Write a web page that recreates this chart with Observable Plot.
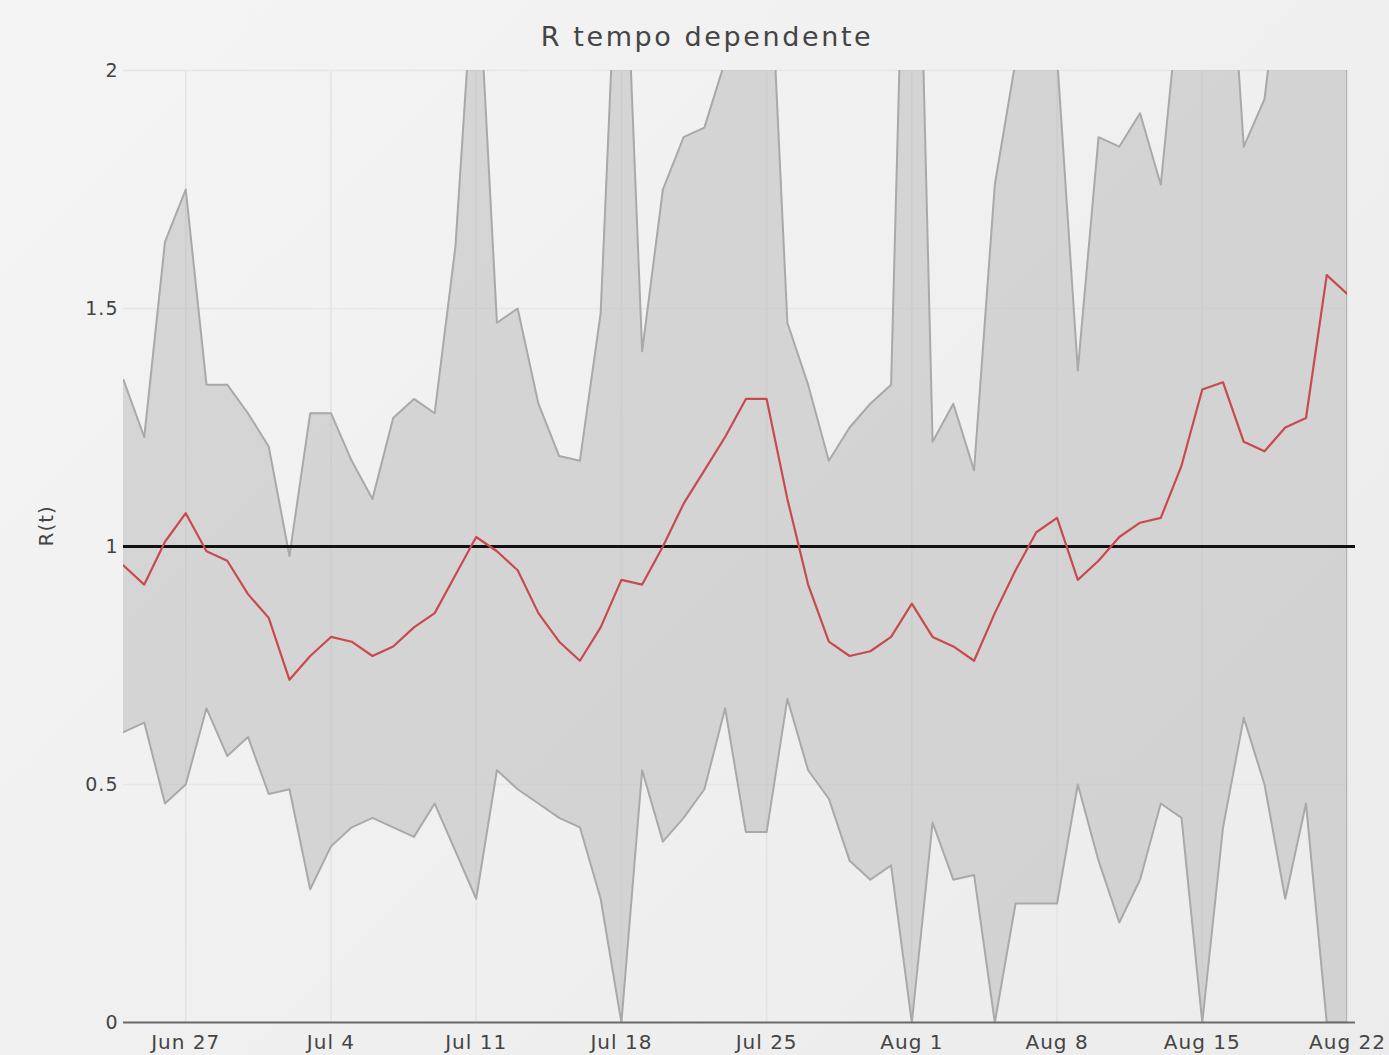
<!DOCTYPE html>
<html>
<head>
<meta charset="utf-8">
<script src="https://cdn.jsdelivr.net/npm/d3@7"></script>
<script src="https://cdn.jsdelivr.net/npm/@observablehq/plot@0.6"></script>
<style>
  html, body { margin: 0; padding: 0; background: #f0f0f0; }
  #wrap { position: relative; width: 1389px; height: 1055px; overflow: hidden; background: linear-gradient(135deg, #f4f4f4 0%, #efefef 60%, #ececec 100%); }
  #title { position: absolute; left: 707px; top: 23px; transform: translateX(-50%); font-family: "DejaVu Sans", sans-serif; font-size: 27px; letter-spacing: 2.6px; color: #444; white-space: nowrap; line-height: 1; }
  #chart { position: absolute; left: 0; top: 40px; }
</style>
</head>
<body>
<div id="wrap">
  <div id="title">R tempo dependente</div>
  <div id="chart"></div>
</div>
<script>
const dates = [
  "2020-06-24","2020-06-25","2020-06-26","2020-06-27","2020-06-28","2020-06-29","2020-06-30",
  "2020-07-01","2020-07-02","2020-07-03","2020-07-04","2020-07-05","2020-07-06","2020-07-07",
  "2020-07-08","2020-07-09","2020-07-10","2020-07-11","2020-07-12","2020-07-13","2020-07-14",
  "2020-07-15","2020-07-16","2020-07-17","2020-07-18","2020-07-19","2020-07-20","2020-07-21",
  "2020-07-22","2020-07-23","2020-07-24","2020-07-25","2020-07-26","2020-07-27","2020-07-28",
  "2020-07-29","2020-07-30","2020-07-31","2020-08-01","2020-08-02","2020-08-03","2020-08-04",
  "2020-08-05","2020-08-06","2020-08-07","2020-08-08","2020-08-09","2020-08-10","2020-08-11",
  "2020-08-12","2020-08-13","2020-08-14","2020-08-15","2020-08-16","2020-08-17","2020-08-18",
  "2020-08-19","2020-08-20","2020-08-21","2020-08-22"
];
const rt = [
  0.96,0.92,1.01,1.07,0.99,0.97,0.90,0.85,0.72,0.77,
  0.81,0.80,0.77,0.79,0.83,0.86,0.94,1.02,0.99,0.95,
  0.86,0.80,0.76,0.83,0.93,0.92,1.00,1.09,1.16,1.23,
  1.31,1.31,1.10,0.92,0.80,0.77,0.78,0.81,0.88,0.81,
  0.79,0.76,0.86,0.95,1.03,1.06,0.93,0.97,1.02,1.05,
  1.06,1.17,1.33,1.345,1.22,1.20,1.25,1.27,1.57,1.53
];
const upper = [
  1.35,1.23,1.64,1.75,1.34,1.34,1.28,1.21,0.98,1.28,
  1.28,1.18,1.10,1.27,1.31,1.28,1.63,2.3,1.47,1.50,
  1.30,1.19,1.18,1.49,2.5,1.41,1.75,1.86,1.88,2.02,
  2.3,2.4,1.47,1.34,1.18,1.25,1.30,1.34,3.0,1.22,
  1.30,1.16,1.76,2.02,2.2,2.03,1.37,1.86,1.84,1.91,
  1.76,2.2,2.5,2.5,1.84,1.94,2.3,2.5,2.6,2.7
];
const lower = [
  0.61,0.63,0.46,0.50,0.66,0.56,0.60,0.48,0.49,0.28,
  0.37,0.41,0.43,0.41,0.39,0.46,0.36,0.26,0.53,0.49,
  0.46,0.43,0.41,0.26,0.0,0.53,0.38,0.43,0.49,0.66,
  0.40,0.40,0.68,0.53,0.47,0.34,0.30,0.33,0.0,0.42,
  0.30,0.31,0.0,0.25,0.25,0.25,0.50,0.34,0.21,0.30,
  0.46,0.43,0.0,0.41,0.64,0.50,0.26,0.46,0.0,0.0
];
const xTicks = ["2020-06-27","2020-07-04","2020-07-11","2020-07-18","2020-07-25","2020-08-01","2020-08-08","2020-08-15","2020-08-22"];
const yTicks = [0, 0.5, 1, 1.5, 2];
const threshold = 1;

const data = dates.map((d, i) => ({date: new Date(d), r: rt[i], up: upper[i], lo: lower[i]}));
const last = data[data.length - 1];
const xt = xTicks.map(d => new Date(d));
const fmt = d3.utcFormat("%b %-d");

const chart = Plot.plot({
  width: 1389,
  height: 1015,
  marginLeft: 123,
  marginRight: 42,
  marginTop: 30,
  marginBottom: 33,
  style: {background: "transparent", fontFamily: "'DejaVu Sans', sans-serif", fontSize: "19px", color: "#444", letterSpacing: "1px", overflow: "visible"},
  x: {type: "utc", domain: [data[0].date, last.date]},
  y: {domain: [0, 2]},
  marks: [
    Plot.gridX(xt, {stroke: "#e2e2e2", strokeOpacity: 1, strokeWidth: 1.5}),
    Plot.gridY(yTicks, {stroke: "#e6e6e6", strokeOpacity: 1, strokeWidth: 1.5}),
    Plot.areaY(data, {x: "date", y1: "lo", y2: "up", fill: "#b8b8b8", fillOpacity: 0.5, clip: true}),
    Plot.lineY(data, {x: "date", y: "up", stroke: "#a9a9a9", strokeWidth: 2, clip: true}),
    Plot.lineY(data, {x: "date", y: "lo", stroke: "#a9a9a9", strokeWidth: 2, clip: true}),
    Plot.ruleX([last], {x: "date", y1: "lo", y2: "up", stroke: "#a9a9a9", strokeWidth: 2.5, clip: true}),
    Plot.ruleY([0], {stroke: "#6a6a6a", strokeWidth: 2, insetRight: -8}),
    Plot.ruleY([threshold], {stroke: "#111", strokeWidth: 3, insetRight: -8}),
    Plot.lineY(data, {x: "date", y: "r", stroke: "#c94a4d", strokeWidth: 2.2, clip: true}),
    Plot.axisX(xt, {tickSize: 0, tickPadding: 12, tickFormat: fmt, label: null, fill: "#444", fontSize: 20, style: {letterSpacing: "1.6px"}}),
    Plot.axisY(yTicks, {tickSize: 0, tickPadding: 5, tickFormat: d => String(d), label: null, fill: "#444"}),
    Plot.text(["R(t)"], {frameAnchor: "left", dx: -77, rotate: -90, fontSize: 20, fill: "#444"})
  ]
});
document.getElementById("chart").appendChild(chart);
</script>
</body>
</html>
